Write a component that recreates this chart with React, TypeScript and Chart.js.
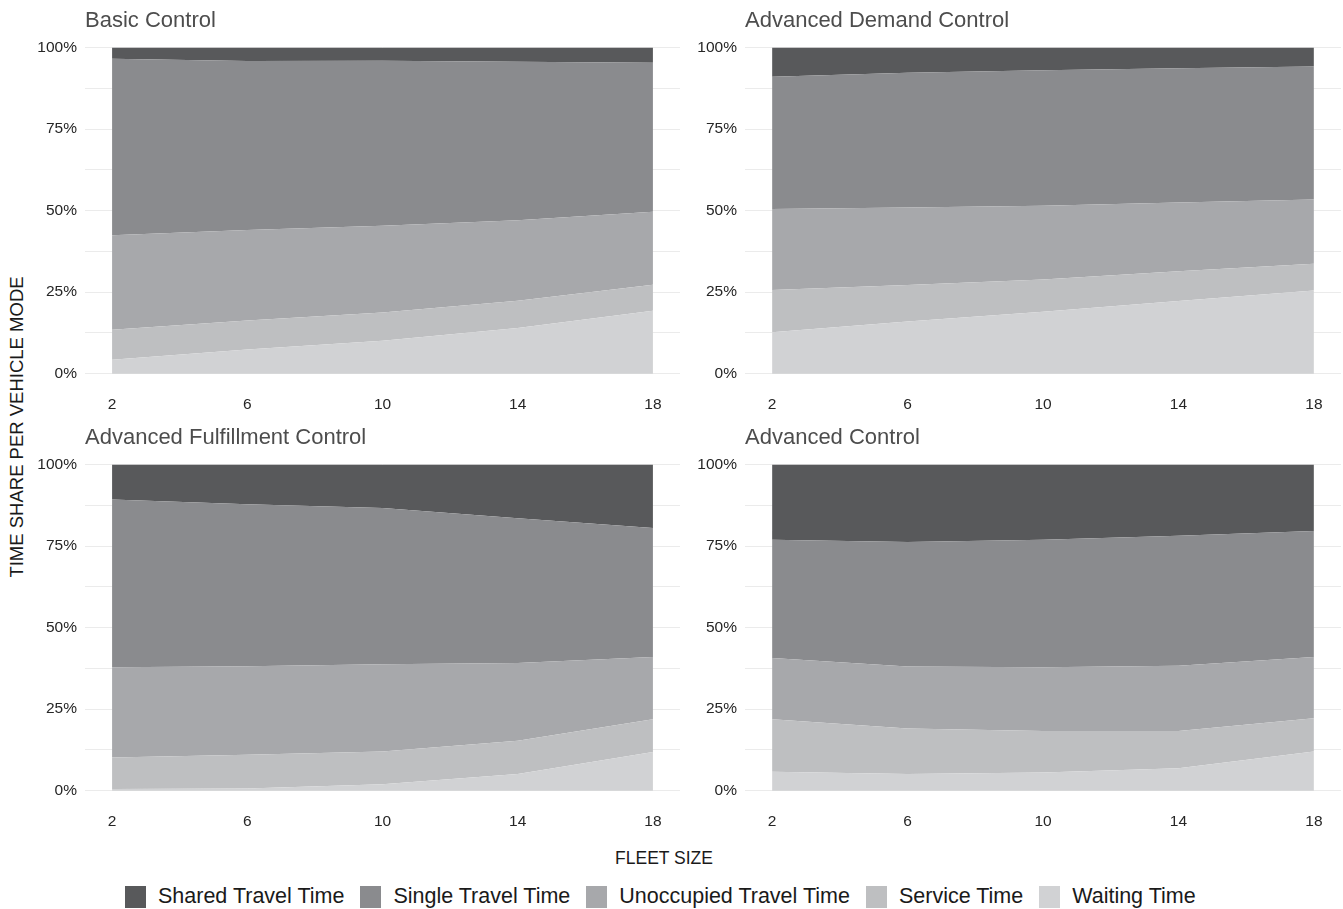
import React, { useEffect, useRef } from 'react';
import { Chart, registerables } from 'chart.js';

Chart.register(...registerables);

const FONT = "'Liberation Sans', Arial, Helvetica, sans-serif";

// x values (fleet size) and tick labels
const fleetSizes = [2, 6, 10, 14, 18];
const xTickValues = [2, 6, 10, 14, 18];
const yTickValues = [0, 12.5, 25, 37.5, 50, 62.5, 75, 87.5, 100];
const yLabelledTicks = [0, 25, 50, 75, 100];

// series, top to bottom of the stack (legend order)
const seriesNames = ['Shared Travel Time', 'Single Travel Time', 'Unoccupied Travel Time', 'Service Time', 'Waiting Time'];
const seriesColors = ['#58595b', '#8a8b8e', '#a7a8ab', '#bebfc1', '#d1d2d4'];

const panelTitles = ['Basic Control', 'Advanced Demand Control', 'Advanced Fulfillment Control', 'Advanced Control'];

// Basic Control (% of time)
const basicShared = [3.4, 4.1, 4.0, 4.3, 4.6];
const basicSingle = [54.1, 51.8, 50.6, 48.6, 45.7];
const basicUnoccupied = [29.0, 27.8, 26.6, 24.7, 22.4];
const basicService = [9.2, 8.9, 8.7, 8.4, 8.0];
const basicWaiting = [4.3, 7.4, 10.1, 14.0, 19.3];

// Advanced Demand Control
const demandShared = [8.9, 7.7, 6.9, 6.3, 5.8];
const demandSingle = [40.6, 41.3, 41.6, 41.2, 40.8];
const demandUnoccupied = [24.8, 23.8, 22.6, 21.1, 19.7];
const demandService = [13.0, 11.2, 9.9, 9.1, 8.2];
const demandWaiting = [12.7, 16.0, 19.0, 22.3, 25.5];

// Advanced Fulfillment Control
const fulfillShared = [10.7, 12.1, 13.3, 16.4, 19.4];
const fulfillSingle = [51.4, 49.7, 47.9, 44.4, 39.6];
const fulfillUnoccupied = [27.7, 27.2, 26.8, 23.9, 19.1];
const fulfillService = [9.7, 10.3, 10.0, 10.2, 10.0];
const fulfillWaiting = [0.5, 0.7, 2.0, 5.1, 11.9];

// Advanced Control
const advShared = [23.0, 23.7, 23.0, 21.8, 20.3];
const advSingle = [36.3, 38.2, 39.1, 39.9, 38.7];
const advUnoccupied = [18.8, 19.0, 19.6, 20.0, 18.8];
const advService = [16.1, 14.0, 12.7, 11.4, 10.2];
const advWaiting = [5.8, 5.1, 5.6, 6.9, 12.0];

const panelSeries = [
  [basicShared, basicSingle, basicUnoccupied, basicService, basicWaiting],
  [demandShared, demandSingle, demandUnoccupied, demandService, demandWaiting],
  [fulfillShared, fulfillSingle, fulfillUnoccupied, fulfillService, fulfillWaiting],
  [advShared, advSingle, advUnoccupied, advService, advWaiting],
];

type PanelProps = { title: string; series: number[][]; left: number; top: number; width: number; height: number };

function Panel({ title, series, left, top, width, height }: PanelProps) {
  const ref = useRef<HTMLCanvasElement>(null);
  useEffect(() => {
    if (!ref.current) return;
    // bottom of stack first
    const order = [4, 3, 2, 1, 0];
    const datasets = order.map((si, k) => ({
      label: seriesNames[si],
      data: fleetSizes.map((x, i) => ({ x, y: series[si][i] })),
      backgroundColor: seriesColors[si],
      borderColor: seriesColors[si],
      borderWidth: 0,
      pointRadius: 0,
      pointHoverRadius: 0,
      tension: 0,
      fill: k === 0 ? 'origin' : '-1',
    }));
    const chart = new Chart(ref.current, {
      type: 'line',
      data: { datasets: datasets as any },
      options: {
        animation: false,
        responsive: false,
        devicePixelRatio: 1,
        layout: { padding: 0 },
        plugins: {
          legend: { display: false },
          tooltip: { enabled: false },
          title: {
            display: true,
            text: title,
            align: 'start',
            fullSize: false,
            color: '#4d4d4d',
            padding: { top: 10.5, bottom: 0 },
            font: { family: FONT, size: 22, weight: 'normal', lineHeight: 0.95 },
          },
        },
        scales: {
          x: {
            type: 'linear',
            min: 1.2,
            max: 18.8,
            grid: { display: false, drawTicks: false },
            border: { display: false },
            afterBuildTicks: (s: any) => {
              s.ticks = xTickValues.map((v) => ({ value: v }));
            },
            afterFit: (s: any) => {
              s.height = 30;
            },
            ticks: {
              autoSkip: false,
              maxRotation: 0,
              padding: 5,
              color: '#262626',
              font: { family: FONT, size: 15.5 },
              callback: (v: any) => String(v),
            },
          },
          y: {
            type: 'linear',
            stacked: true,
            min: -5,
            max: 105,
            grid: { color: '#ebebeb', lineWidth: 1, drawTicks: false },
            border: { display: false },
            afterBuildTicks: (s: any) => {
              s.ticks = yTickValues.map((v) => ({ value: v }));
            },
            afterFit: (s: any) => {
              s.width = 55;
            },
            ticks: {
              autoSkip: false,
              padding: 8,
              color: '#262626',
              font: { family: FONT, size: 15.5 },
              callback: (v: any) => (yLabelledTicks.includes(Number(v)) ? `${v}%` : ''),
            },
          },
        },
      },
    });
    return () => chart.destroy();
  }, [title, series]);
  return (
    <canvas
      ref={ref}
      width={width}
      height={height}
      style={{ position: 'absolute', left, top, width, height }}
    />
  );
}

export default function App() {
  useEffect(() => {
    document.body.style.margin = '0';
    document.body.style.overflow = 'hidden';
  }, []);
  const legendOrder = [0, 1, 2, 3, 4];
  return (
    <div style={{ position: 'absolute', left: 0, top: 0, width: 1343, height: 909, background: '#fff', fontFamily: FONT, overflow: 'hidden' }}>
      <Panel title={panelTitles[0]} series={panelSeries[0]} left={30} top={0} width={650} height={420} />
      <Panel title={panelTitles[1]} series={panelSeries[1]} left={690} top={0} width={651} height={420} />
      <Panel title={panelTitles[2]} series={panelSeries[2]} left={30} top={417} width={650} height={420} />
      <Panel title={panelTitles[3]} series={panelSeries[3]} left={690} top={417} width={651} height={420} />
      <div
        style={{
          position: 'absolute',
          left: 17,
          top: 427,
          transform: 'translate(-50%, -50%) rotate(-90deg)',
          whiteSpace: 'nowrap',
          fontSize: 18.5,
          color: '#1a1a1a',
          lineHeight: 1,
        }}
      >
        TIME SHARE PER VEHICLE MODE
      </div>
      <div
        style={{
          position: 'absolute',
          left: 664,
          top: 859,
          transform: 'translate(-50%, -50%)',
          whiteSpace: 'nowrap',
          fontSize: 17.5,
          color: '#1a1a1a',
          lineHeight: 1,
        }}
      >
        FLEET SIZE
      </div>
      <div style={{ position: 'absolute', left: 125, top: 886, height: 22, display: 'flex', alignItems: 'center', whiteSpace: 'nowrap' }}>
        {legendOrder.map((i) => (
          <div key={i} style={{ display: 'flex', alignItems: 'center', marginRight: 16 }}>
            <div style={{ width: 21, height: 22, background: seriesColors[i], marginRight: 12 }} />
            <span style={{ fontSize: 21.5, color: '#1a1a1a', lineHeight: 1 }}>{seriesNames[i]}</span>
          </div>
        ))}
      </div>
    </div>
  );
}
